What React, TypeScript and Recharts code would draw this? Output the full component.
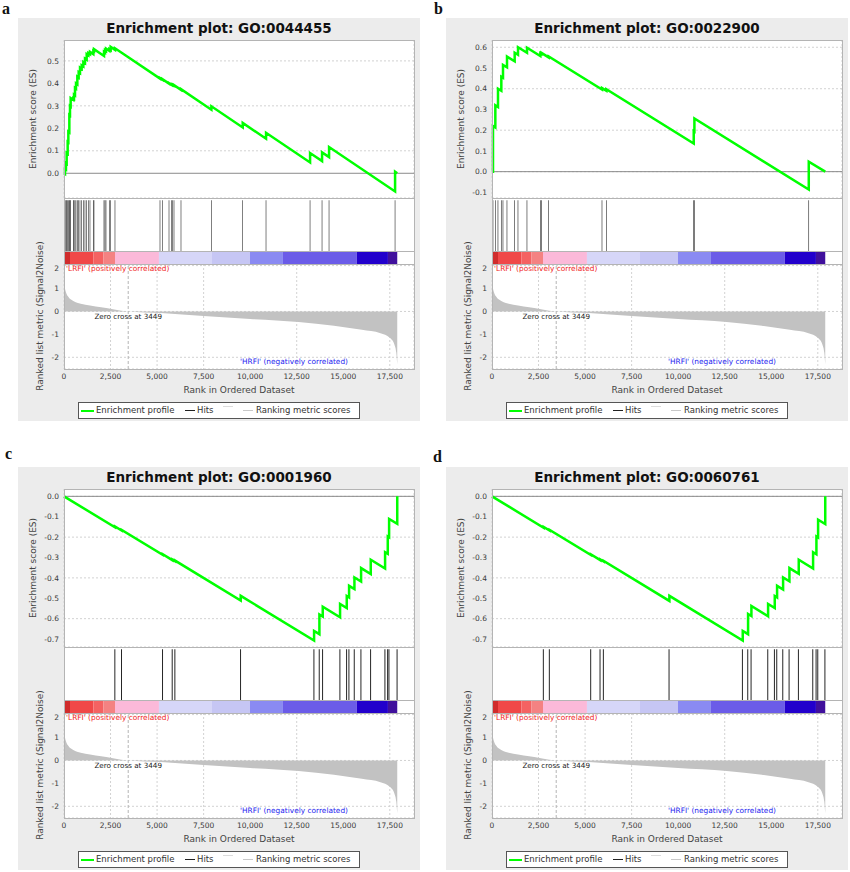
import {
  LineChart,
  Line,
  AreaChart,
  Area,
  ComposedChart,
  Bar,
  XAxis,
  YAxis,
  CartesianGrid,
  ReferenceLine,
  ReferenceArea,
  ReferenceDot,
} from 'recharts';

const FONT = '"DejaVu Sans", sans-serif';
const RANK_MAX = 18800;
const RANK_TICKS = [0, 2500, 5000, 7500, 10000, 12500, 15000, 17500];
const ZERO_CROSS = 3449;

// ranked list metric (Signal2Noise), same list in all four plots
const metricRanks = [0, 30, 100, 250, 500, 900, 1400, 2000, 2700, 3449, 5200, 7500, 10000, 12600, 14500, 16000, 17000, 17500, 17750, 17850, 17900];
const metricValues = [1.55, 1.15, 0.85, 0.62, 0.46, 0.34, 0.26, 0.18, 0.09, 0, -0.07, -0.2, -0.33, -0.46, -0.62, -0.8, -0.95, -1.15, -1.45, -1.8, -2.3];
const METRIC_TICKS = [-2, -1, 0, 1, 2];

// colour bar under the hits
const barStarts = [0, 322, 1575, 2110, 2740, 5100, 7950, 9990, 11760, 15730, 17400];
const barEnds = [322, 1575, 2110, 2740, 5100, 7950, 9990, 11760, 15730, 17400, 17900];
const barColors = ['#d02c2c', '#f04848', '#f46262', '#f48282', '#fbb9d9', '#d6d6f8', '#c6c6f4', '#8a8af2', '#6b5ce8', '#2200cc', '#40109c'];

// running enrichment score, [rank, ES]
const esA: [number, number][] = [
  [0, 0], [54, -0.003], [54, 0.02], [107, 0.017], [107, 0.045], [143, 0.043], [143, 0.09],
  [197, 0.087], [197, 0.14], [233, 0.138], [233, 0.185], [287, 0.182], [287, 0.26],
  [322, 0.258], [322, 0.3], [358, 0.298], [358, 0.335], [501, 0.327], [501, 0.333],
  [537, 0.331], [537, 0.35], [591, 0.347], [591, 0.38], [645, 0.377], [645, 0.4],
  [716, 0.396], [716, 0.43], [788, 0.426], [788, 0.45], [860, 0.446], [860, 0.47],
  [949, 0.465], [949, 0.48], [1039, 0.475], [1039, 0.495], [1128, 0.49], [1128, 0.51],
  [1218, 0.505], [1218, 0.53], [1307, 0.525], [1307, 0.535], [1397, 0.53], [1397, 0.54],
  [1576, 0.53], [1576, 0.545], [1612, 0.543], [1612, 0.552], [2149, 0.522], [2149, 0.54],
  [2203, 0.537], [2203, 0.548], [2257, 0.545], [2257, 0.555], [2436, 0.545], [2436, 0.552],
  [2507, 0.548], [2507, 0.562], [2740, 0.549], [2740, 0.556], [5158, 0.421], [5158, 0.424],
  [5283, 0.417], [5283, 0.419], [5642, 0.399], [5642, 0.401], [5785, 0.393], [5785, 0.395],
  [5839, 0.392], [5839, 0.394], [5910, 0.39], [5910, 0.392], [6286, 0.371], [6286, 0.374],
  [7916, 0.283], [7916, 0.298], [9600, 0.204], [9600, 0.224], [10853, 0.154], [10853, 0.18],
  [13218, 0.048], [13218, 0.09], [13862, 0.054], [13862, 0.093], [14238, 0.072], [14238, 0.117],
  [17784, -0.081], [17784, 0.007], [17900, 0],
];
const hitsA = [54, 107, 143, 197, 233, 287, 322, 358, 501, 537, 591, 645, 716, 788, 860, 949, 1039, 1128, 1218, 1307, 1397, 1576, 1612, 2149, 2203, 2257, 2436, 2507, 2740, 5158, 5283, 5642, 5785, 5839, 5910, 6286, 7916, 9600, 10853, 13218, 13862, 14238, 17784];

const esB: [number, number][] = [
  [0, 0], [54, 0], [54, 0.22], [179, 0.213], [179, 0.32], [322, 0.312], [322, 0.4],
  [501, 0.39], [501, 0.458], [591, 0.453], [591, 0.515], [806, 0.503], [806, 0.555],
  [1218, 0.532], [1218, 0.574], [1397, 0.564], [1397, 0.6], [1880, 0.573], [1880, 0.598],
  [2597, 0.558], [2597, 0.571], [2651, 0.568], [2651, 0.573], [3045, 0.551], [3045, 0.556],
  [5910, 0.396], [5910, 0.403], [6143, 0.39], [6143, 0.398], [10836, 0.136], [10836, 0.196],
  [10872, 0.194], [10872, 0.257], [17015, -0.086], [17015, 0.048], [17900, 0],
];
const hitsB = [54, 179, 322, 501, 591, 806, 1218, 1397, 1880, 2597, 2651, 3045, 5910, 6143, 10836, 10872, 17015];

const esC: [number, number][] = [
  [0, 0], [2740, -0.152], [2740, -0.148], [3098, -0.168], [3098, -0.165], [5301, -0.287],
  [5301, -0.284], [5821, -0.313], [5821, -0.31], [5964, -0.318], [5964, -0.315],
  [9492, -0.511], [9492, -0.488], [13433, -0.707], [13433, -0.66], [13719, -0.676],
  [13719, -0.58], [13898, -0.59], [13898, -0.541], [14829, -0.593], [14829, -0.528],
  [15188, -0.548], [15188, -0.489], [15313, -0.496], [15313, -0.439], [15600, -0.455],
  [15600, -0.398], [15958, -0.418], [15958, -0.352], [16477, -0.381], [16477, -0.311],
  [17247, -0.354], [17247, -0.274], [17391, -0.282], [17391, -0.197], [17463, -0.201],
  [17463, -0.111], [17900, -0.135], [17900, 0],
];
const hitsC = [2740, 3098, 5301, 5821, 5964, 9492, 13433, 13719, 13898, 14829, 15188, 15313, 15600, 15958, 16477, 17247, 17391, 17463, 17900];

const esD: [number, number][] = [
  [0, 0], [2776, -0.154], [2776, -0.15], [3098, -0.168], [3098, -0.165], [5319, -0.288],
  [5319, -0.285], [5821, -0.313], [5821, -0.31], [6000, -0.32], [6000, -0.317],
  [9528, -0.513], [9528, -0.488], [13469, -0.707], [13469, -0.66], [13755, -0.676],
  [13755, -0.577], [13934, -0.587], [13934, -0.538], [14830, -0.588], [14830, -0.528],
  [15188, -0.548], [15188, -0.489], [15313, -0.496], [15313, -0.439], [15636, -0.457],
  [15636, -0.398], [15976, -0.417], [15976, -0.352], [16477, -0.38], [16477, -0.311],
  [17247, -0.354], [17247, -0.274], [17426, -0.284], [17426, -0.197], [17516, -0.202],
  [17516, -0.115], [17900, -0.136], [17900, 0],
];
const hitsD = [2776, 3098, 5319, 5821, 6000, 9528, 13469, 13755, 13934, 14830, 15188, 15313, 15636, 15976, 16477, 17247, 17426, 17516, 17900];

const ticksPos = [-0.1, 0, 0.1, 0.2, 0.3, 0.4, 0.5];
const ticksPosB = [-0.1, 0, 0.1, 0.2, 0.3, 0.4, 0.5, 0.6];
const ticksNeg = [-0.7, -0.6, -0.5, -0.4, -0.3, -0.2, -0.1, 0];

// hits are drawn as thin range bars above the colour bar
const HIT_SPAN: [number, number] = [0.197, 0.965];

const tickStyle = { fontSize: 7.5, fill: '#3a3a3a', fontFamily: FONT };
const fmtRank = (v: number) => v.toLocaleString('en-US');

interface PanelProps {
  left: number;
  top: number;
  title: string;
  es: [number, number][];
  hits: number[];
  esDomain: [number, number];
  esTicks: number[];
}

function Panel({ left, top, title, es, hits, esDomain, esTicks }: PanelProps) {
  const esData = es.map(([rank, score]) => ({ rank, score }));
  const metricData = metricRanks.map((rank, i) => ({ rank, value: metricValues[i] }));
  const hitData = hits.map((rank) => ({ rank, span: HIT_SPAN }));

  return (
    <div
      style={{
        position: 'absolute',
        left,
        top,
        width: 402,
        height: 403,
        background: '#ececec',
        fontFamily: FONT,
      }}
    >
      <div
        style={{
          position: 'absolute',
          top: 1,
          width: 402,
          textAlign: 'center',
          fontSize: 13.5,
          fontWeight: 'bold',
          color: '#111',
          lineHeight: '18px',
        }}
      >
        {title}
      </div>

      {/* white plot background */}
      <div style={{ position: 'absolute', left: 46, top: 22, width: 350, height: 329, background: '#fff' }} />

      <div style={{ position: 'absolute', left: 0, top: 22 }}>
        <LineChart width={402} height={158} data={esData} margin={{ top: 0, right: 6, bottom: 0, left: 0 }}>
          <CartesianGrid strokeDasharray="2 2" stroke="#d2d2d2" />
          <XAxis type="number" dataKey="rank" domain={[0, RANK_MAX]} ticks={RANK_TICKS} height={0} tick={false} axisLine={false} tickLine={false} />
          <YAxis
            type="number"
            domain={esDomain}
            ticks={esTicks}
            allowDataOverflow
            width={46}
            axisLine={false}
            tickLine={false}
            tickSize={3}
            tickMargin={2}
            tick={tickStyle}
            tickFormatter={(v: number) => v.toFixed(1)}
            label={{
              value: 'Enrichment score (ES)',
              angle: -90,
              position: 'insideLeft',
              offset: 15,
              style: { textAnchor: 'middle', fontSize: 9, fill: '#444', fontFamily: FONT },
            }}
          />
          <ReferenceLine y={0} stroke="#8a8a8a" />
          <Line type="linear" dataKey="score" stroke="#00ff00" strokeWidth={2.5} dot={false} isAnimationActive={false} />
        </LineChart>
      </div>

      <div style={{ position: 'absolute', left: 0, top: 180 }}>
        <ComposedChart width={402} height={66} data={hitData} margin={{ top: 0, right: 6, bottom: 0, left: 0 }}>
          <XAxis type="number" dataKey="rank" domain={[0, RANK_MAX]} height={0} tick={false} axisLine={false} tickLine={false} />
          <YAxis type="number" domain={[0, 1]} width={46} tick={false} axisLine={false} tickLine={false} />
          {barStarts.map((s, i) => (
            <ReferenceArea key={'c' + i} x1={s} x2={barEnds[i]} y1={0} y2={HIT_SPAN[0]} fill={barColors[i]} fillOpacity={1} stroke="none" />
          ))}
          <Bar dataKey="span" barSize={1} fill="#262626" isAnimationActive={false} />
        </ComposedChart>
      </div>

      <div style={{ position: 'absolute', left: 0, top: 246 }}>
        <AreaChart width={402} height={135} data={metricData} margin={{ top: 0, right: 6, bottom: 0, left: 0 }}>
          <CartesianGrid strokeDasharray="2 2" stroke="#d2d2d2" />
          <XAxis
            type="number"
            dataKey="rank"
            domain={[0, RANK_MAX]}
            ticks={RANK_TICKS}
            height={30}
            axisLine={false}
            tickLine={false}
            tickSize={3}
            tickMargin={2}
            tick={tickStyle}
            tickFormatter={fmtRank}
            label={{
              value: 'Rank in Ordered Dataset',
              position: 'insideBottom',
              offset: 6,
              style: { fontSize: 9, fill: '#444', fontFamily: FONT },
            }}
          />
          <YAxis
            type="number"
            domain={[-2.51, 2.07]}
            ticks={METRIC_TICKS}
            allowDataOverflow
            width={46}
            axisLine={false}
            tickLine={false}
            tickSize={3}
            tickMargin={2}
            tick={tickStyle}
          />
          <Area
            type="monotone"
            dataKey="value"
            baseValue={0}
            stroke="none"
            fill="#c2c2c2"
            fillOpacity={1}
            isAnimationActive={false}
          />
          <ReferenceLine x={ZERO_CROSS} stroke="#b4b4b4" strokeDasharray="3 2" />
          <ReferenceDot
            x={ZERO_CROSS}
            y={0}
            r={1}
            fill="none"
            stroke="none"
            label={{ value: 'Zero cross at 3449', position: 'bottom', offset: 1, style: { fontSize: 7.2, fill: '#222', fontFamily: FONT } }}
          />
        </AreaChart>
      </div>

      {/* y title of the ranked list, longer than its own plot */}
      <div
        style={{
          position: 'absolute',
          left: 22,
          top: 298,
          transform: 'translate(-50%, -50%) rotate(-90deg)',
          whiteSpace: 'nowrap',
          fontSize: 9,
          lineHeight: '11px',
          color: '#444',
        }}
      >
        Ranked list metric (Signal2Noise)
      </div>

      {/* plot outlines */}
      <div style={{ position: 'absolute', left: 46, top: 22, width: 351, height: 330, boxSizing: 'border-box', border: '1px solid #b4b4b4' }} />
      <div style={{ position: 'absolute', left: 46, top: 180, width: 351, height: 1, background: '#b4b4b4' }} />
      <div style={{ position: 'absolute', left: 46, top: 233, width: 351, height: 1, background: '#b4b4b4' }} />
      <div style={{ position: 'absolute', left: 46, top: 246, width: 351, height: 1, background: '#b4b4b4' }} />

      <div style={{ position: 'absolute', left: 48, top: 246, fontSize: 7.4, lineHeight: '10px', color: '#f02424' }}>
        'LRFI' (positively correlated)
      </div>
      <div style={{ position: 'absolute', left: 200, width: 130, textAlign: 'right', top: 339, fontSize: 7.4, lineHeight: '10px', color: '#2424f0' }}>
        'HRFI' (negatively correlated)
      </div>

      {/* legend */}
      <div
        style={{
          position: 'absolute',
          left: 60,
          top: 384,
          width: 282,
          height: 17,
          boxSizing: 'border-box',
          border: '1px solid #555',
          background: '#fff',
          fontSize: 8.5,
          color: '#333',
        }}
      >
        <div style={{ position: 'absolute', left: 2, top: 7, width: 13, height: 2, background: '#00ff00' }} />
        <div style={{ position: 'absolute', left: 17, top: 2, lineHeight: '11px' }}>Enrichment profile</div>
        <div style={{ position: 'absolute', left: 106, top: 7, width: 10, height: 1, background: '#222' }} />
        <div style={{ position: 'absolute', left: 118, top: 2, lineHeight: '11px' }}>Hits</div>
        <div style={{ position: 'absolute', left: 144, top: 3, width: 10, height: 1, background: '#dcdcdc' }} />
        <div style={{ position: 'absolute', left: 164, top: 7, width: 10, height: 1, background: '#c8c8c8' }} />
        <div style={{ position: 'absolute', left: 177, top: 2, lineHeight: '11px' }}>Ranking metric scores</div>
      </div>
    </div>
  );
}

const letterStyle = {
  position: 'absolute' as const,
  fontFamily: '"Liberation Serif", serif',
  fontWeight: 'bold' as const,
  fontSize: 16,
  lineHeight: '18px',
  color: '#111',
};

export default function App() {
  return (
    <div style={{ position: 'absolute', left: 0, top: 0, width: 850, height: 872, background: '#fff', overflow: 'hidden' }}>
      <div style={{ ...letterStyle, left: 2, top: 0 }}>a</div>
      <div style={{ ...letterStyle, left: 434, top: 0 }}>b</div>
      <div style={{ ...letterStyle, left: 5, top: 445 }}>c</div>
      <div style={{ ...letterStyle, left: 433, top: 448 }}>d</div>
      <Panel left={18} top={18} title="Enrichment plot: GO:0044455" es={esA} hits={hitsA} esDomain={[-0.11, 0.593]} esTicks={ticksPos} />
      <Panel left={446} top={18} title="Enrichment plot: GO:0022900" es={esB} hits={hitsB} esDomain={[-0.127, 0.635]} esTicks={ticksPosB} />
      <Panel left={18} top={467} title="Enrichment plot: GO:0001960" es={esC} hits={hitsC} esDomain={[-0.739, 0.036]} esTicks={ticksNeg} />
      <Panel left={446} top={467} title="Enrichment plot: GO:0060761" es={esD} hits={hitsD} esDomain={[-0.739, 0.036]} esTicks={ticksNeg} />
    </div>
  );
}
